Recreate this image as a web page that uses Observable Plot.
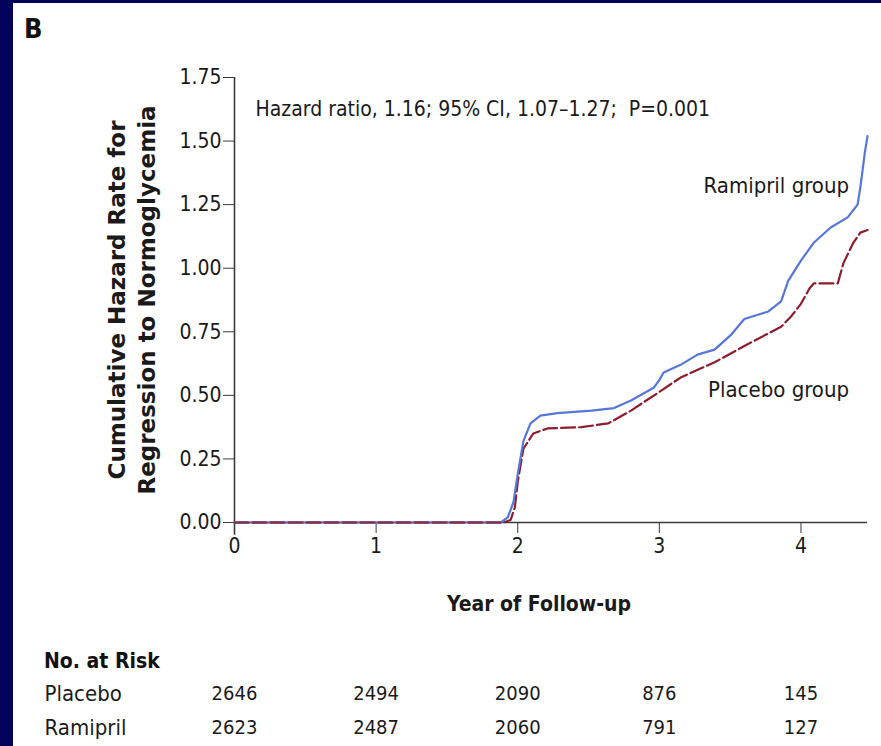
<!DOCTYPE html>
<html>
<head>
<meta charset="utf-8">
<script src="https://cdn.jsdelivr.net/npm/d3@7"></script>
<script src="https://cdn.jsdelivr.net/npm/@observablehq/plot@0.6"></script>
<style>
  html, body { margin: 0; padding: 0; width: 881px; height: 746px; overflow: hidden; background: #03035c; }
  #panel { position: absolute; left: 13px; top: 3px; width: 868px; height: 743px; background: #fff; overflow: hidden; }
  #letter { position: absolute; left: 11px; top: 10px; font: bold 27px "DejaVu Sans Condensed", "DejaVu Sans", sans-serif; color: #111; }
  #chart { position: absolute; left: 0; top: 47px; }
  #risk-title { position: absolute; left: 31px; top: 646px; font: bold 21px "DejaVu Sans Condensed", "DejaVu Sans", sans-serif; color: #111; }
  #risk { position: absolute; left: 0; top: 637px; }
  svg text { fill: #1a1a1a; }
</style>
</head>
<body>
<div id="panel">
  <div id="letter">B</div>
  <div id="chart"></div>
  <div id="risk-title">No. at Risk</div>
  <div id="risk"></div>
</div>
<script>
// Cumulative hazard (Nelson–Aalen style) for each group, by year of follow-up
const ramiprilYears = [0, 1.88, 1.93, 1.97, 2.0, 2.04, 2.09, 2.16, 2.28, 2.52, 2.68, 2.80, 2.96, 3.0, 3.03, 3.15, 3.27, 3.39, 3.51, 3.60, 3.77, 3.86, 3.91, 4.0, 4.09, 4.21, 4.33, 4.40, 4.42, 4.45, 4.47];
const ramiprilHazard = [0, 0, 0.02, 0.08, 0.19, 0.32, 0.39, 0.42, 0.43, 0.44, 0.45, 0.48, 0.53, 0.56, 0.59, 0.62, 0.66, 0.68, 0.74, 0.80, 0.83, 0.87, 0.95, 1.03, 1.10, 1.16, 1.20, 1.25, 1.32, 1.45, 1.52];

const placeboYears = [0, 1.90, 1.95, 1.98, 2.0, 2.04, 2.11, 2.21, 2.45, 2.64, 2.80, 2.99, 3.15, 3.39, 3.62, 3.86, 3.93, 4.0, 4.06, 4.09, 4.26, 4.30, 4.37, 4.42, 4.47];
const placeboHazard = [0, 0, 0.01, 0.06, 0.16, 0.29, 0.35, 0.37, 0.375, 0.39, 0.44, 0.51, 0.57, 0.63, 0.70, 0.77, 0.81, 0.86, 0.92, 0.94, 0.94, 1.02, 1.10, 1.14, 1.15];

// Axis ticks
const yTicks = [0, 0.25, 0.5, 0.75, 1.0, 1.25, 1.5, 1.75];
const xTicks = [0, 1, 2, 3, 4];
const xMax = 4.47;

// Number at risk at each yearly tick
const riskGroups = ["Placebo", "Ramipril"];
const riskPlacebo = [2646, 2494, 2090, 876, 145];
const riskRamipril = [2623, 2487, 2060, 791, 127];

const annotation = "Hazard ratio, 1.16; 95% CI, 1.07\u20131.27;  P=0.001";
const groupLabels = [
  {name: "Ramipril group", year: 4.34, hazard: 1.325},
  {name: "Placebo group", year: 4.34, hazard: 0.52}
];

const ramipril = ramiprilYears.map((t, i) => ({t, h: ramiprilHazard[i]}));
const placebo = placeboYears.map((t, i) => ({t, h: placeboHazard[i]}));

const narrow = "'DejaVu Sans Condensed', 'DejaVu Sans', sans-serif";
const blue = "#5677d6";
const red = "#8c1d2d";
const axisColor = "#3a3a3a";

const W = 868;
const ML = 221, MR = 14;

const chart = Plot.plot({
  width: W,
  height: 580,
  marginLeft: ML,
  marginRight: MR,
  marginTop: 27,
  marginBottom: 108,
  style: {fontFamily: narrow, fontSize: "21px", color: axisColor, background: "transparent", overflow: "visible"},
  x: {domain: [0, xMax]},
  y: {domain: [0, 1.75]},
  marks: [
    Plot.axisY({ticks: yTicks, tickSize: 11, tickPadding: 2, tickFormat: d3.format(".2f"), label: null}),
    Plot.axisX({ticks: xTicks, tickSize: 11, tickPadding: 5, tickFormat: d3.format("d"), label: null}),
    Plot.ruleX([0], {y1: -0.05, y2: 1.75, stroke: axisColor, strokeWidth: 1.6}),
    Plot.ruleY([0], {x1: 0, x2: xMax, stroke: axisColor, strokeWidth: 1.6}),
    Plot.line(placebo, {x: "t", y: "h", stroke: red, strokeWidth: 2.2, strokeDasharray: "14,4"}),
    Plot.line(ramipril, {x: "t", y: "h", stroke: blue, strokeWidth: 2.2}),
    Plot.line(placebo.filter(d => d.t <= 1.9), {x: "t", y: "h", stroke: red, strokeWidth: 2.2, strokeDasharray: "14,4", strokeOpacity: 0.8}),
    Plot.text(groupLabels, {x: "year", y: "hazard", text: "name", textAnchor: "end", fontSize: 22, fill: "#1a1a1a"}),
    Plot.text([annotation], {frameAnchor: "top-left", text: d => d, dx: 21, dy: 24, textAnchor: "start", fontSize: 21, fill: "#1a1a1a"}),
    Plot.text(["Cumulative Hazard Rate for\nRegression to Normoglycemia"], {
      frameAnchor: "left", text: d => d, rotate: -90, dx: -104, textAnchor: "middle", lineAnchor: "middle",
      fontFamily: "'DejaVu Sans', sans-serif", fontWeight: "bold", fontSize: 23, lineHeight: 1.3, fill: "#1a1a1a"
    }),
    Plot.text(["Year of Follow-up"], {
      frameAnchor: "bottom", text: d => d, dx: -12, dy: 88, fontWeight: "bold", fontSize: 21, fill: "#1a1a1a"
    })
  ]
});
document.getElementById("chart").append(chart);

const riskRows = riskGroups.flatMap(g => xTicks.map((t, i) => ({
  group: g, t, n: (g === "Placebo" ? riskPlacebo : riskRamipril)[i]
})));

const risk = Plot.plot({
  width: W,
  height: 106,
  marginLeft: ML,
  marginRight: MR,
  marginTop: 53,
  marginBottom: 19,
  style: {fontFamily: narrow, fontSize: "21px", color: "#1a1a1a", background: "transparent", overflow: "visible"},
  x: {domain: [0, xMax], axis: null},
  y: {domain: riskGroups, type: "point", padding: 0, axis: null},
  marks: [
    Plot.text(riskRows, {x: "t", y: "group", text: d => String(d.n), fontSize: 20, fill: "#1a1a1a"}),
    Plot.text(riskGroups, {y: d => d, text: d => d, frameAnchor: "left", dx: -190, textAnchor: "start", fontSize: 22, fill: "#1a1a1a"})
  ]
});
document.getElementById("risk").append(risk);
</script>
</body>
</html>
